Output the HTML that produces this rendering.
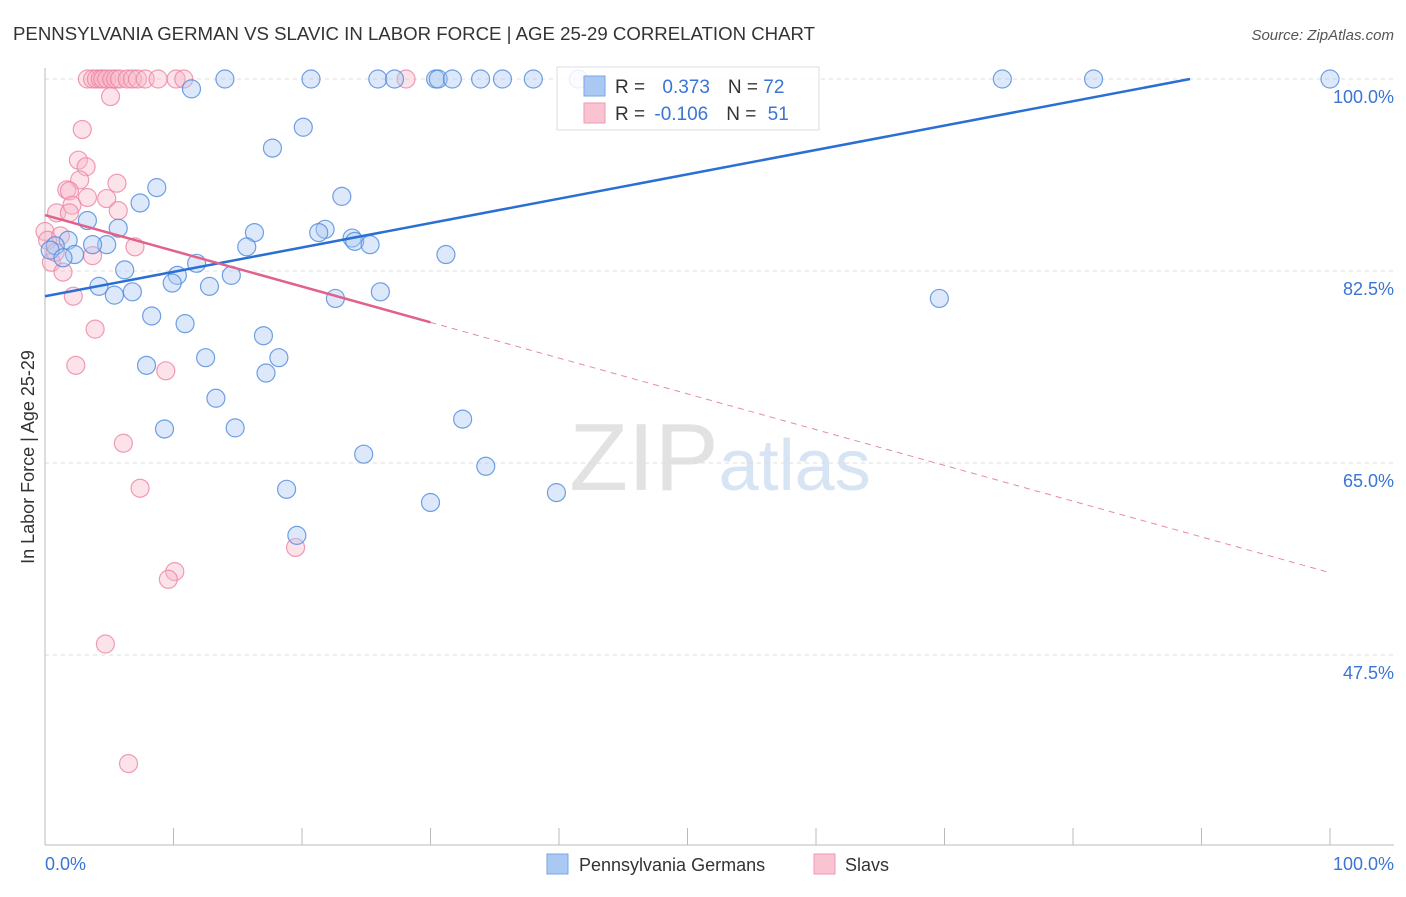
<!DOCTYPE html>
<html><head><meta charset="utf-8">
<style>
body{margin:0;background:#fff;font-family:"Liberation Sans",sans-serif;}
svg text{font-family:"Liberation Sans",sans-serif;}
</style></head>
<body>
<svg id="chart" width="1406" height="892" xmlns="http://www.w3.org/2000/svg">
<text x="13" y="40" font-size="18" fill="#333" textLength="802" lengthAdjust="spacingAndGlyphs">PENNSYLVANIA GERMAN VS SLAVIC IN LABOR FORCE | AGE 25-29 CORRELATION CHART</text>
<text x="1394" y="40" font-size="15" fill="#555" text-anchor="end" font-style="italic">Source: ZipAtlas.com</text>
<text x="720" y="490" font-size="96" text-anchor="middle" fill="#e2e2e2" font-family="Liberation Serif"><tspan fill="#e2e2e2">ZIP</tspan><tspan fill="#d6e4f4" font-family="Liberation Sans" font-size="72">atlas</tspan></text>
<g id="grid"></g>
<g id="axes"></g>
<g id="pts"></g>
<g id="trend"></g>
<text transform="translate(34,457) rotate(-90)" font-size="18" fill="#333" text-anchor="middle">In Labor Force | Age 25-29</text>
<text x="45" y="870" font-size="18" fill="#3a74d6">0.0%</text>
<text x="1394" y="870" font-size="18" fill="#3a74d6" text-anchor="end">100.0%</text>
<g>
<rect x="557" y="67" width="262" height="63" fill="#fff" fill-opacity="0.85" stroke="#ddd"/>
<rect x="584" y="76" width="21" height="20" fill="#a9c8f2" stroke="#7aa6e6"/>
<rect x="584" y="103" width="21" height="20" fill="#f9c3d2" stroke="#ef9ab2"/>
<text x="615" y="93" font-size="19" fill="#333">R = <tspan fill="#3a74d6" dx="12">0.373</tspan><tspan dx="18" fill="#333">N = </tspan><tspan fill="#3a74d6">72</tspan></text>
<text x="615" y="120" font-size="19" fill="#333">R = <tspan fill="#3a74d6" dx="4">-0.106</tspan><tspan dx="18" fill="#333">N = </tspan><tspan fill="#3a74d6" dx="6">51</tspan></text>
</g>
<g>
<rect x="547" y="854" width="21" height="20" fill="#a9c8f2" stroke="#7aa6e6"/>
<text x="579" y="871" font-size="18" fill="#333">Pennsylvania Germans</text>
<rect x="814" y="854" width="21" height="20" fill="#f9c3d2" stroke="#ef9ab2"/>
<text x="845" y="871" font-size="18" fill="#333">Slavs</text>
</g>
</svg>
<script>
const yTicks=[100,82.5,65,47.5];
const yTickLabels=["100.0%","82.5%","65.0%","47.5%"];
const xTicks=[0,10,20,30,40,50,60,70,80,90,100];
const blueX=[11.4,14.0,20.7,25.9,27.2,30.4,30.6,31.7,33.9,35.6,38.0,41.5,74.5,81.6,100,20.1,17.7,8.7,7.4,23.1,3.3,5.7,16.3,21.8,21.3,23.9,24.1,25.3,15.7,4.8,3.7,1.8,0.8,0.4,2.3,1.4,31.2,11.8,6.2,10.3,9.9,14.5,4.2,12.8,5.4,6.8,22.6,26.1,69.6,8.3,10.9,17.0,18.2,12.5,7.9,17.2,13.3,32.5,9.3,14.8,24.8,34.3,18.8,30.0,39.8,19.6];
const blueY=[99.1,100,100,100,100,100,100,100,100,100,100,100,100,100,100,95.6,93.7,90.1,88.7,89.3,87.1,86.4,86.0,86.3,86.0,85.5,85.2,84.9,84.7,84.9,84.9,85.3,84.8,84.4,84.0,83.7,84.0,83.2,82.6,82.1,81.4,82.1,81.1,81.1,80.3,80.6,80.0,80.6,80.0,78.4,77.7,76.6,74.6,74.6,73.9,73.2,70.9,69.0,68.1,68.2,65.8,64.7,62.6,61.4,62.3,58.4];
const pinkX=[3.3,3.7,4.0,4.3,4.5,4.8,5.2,5.5,5.8,6.4,6.8,7.2,7.8,8.8,10.2,10.8,28.1,5.1,2.9,2.6,3.2,2.7,1.7,1.9,5.6,3.3,4.8,2.1,5.7,0.9,1.9,0.0,1.2,7.0,3.7,0.5,1.4,2.2,3.9,2.4,9.4,6.1,7.4,19.5,10.1,9.6,4.7,6.5,0.2,0.8];
const pinkY=[100,100,100,100,100,100,100,100,100,100,100,100,100,100,100,100,100,98.4,95.4,92.6,92.0,90.8,89.9,89.8,90.5,89.2,89.1,88.5,88.0,87.8,87.8,86.1,85.7,84.7,83.9,83.3,82.4,80.2,77.2,73.9,73.4,66.8,62.7,57.3,55.1,54.4,48.5,37.6,85.3,84.2];
const blueTrend=[80.2,0.2222];
const pinkTrend=[87.6,-0.326];
const pinkSolidEnd=30;

const NS="http://www.w3.org/2000/svg";
const X=v=>45+v*12.85, Y=v=>79+(100-v)*10.971;
function mk(tag,attrs,parent){const e=document.createElementNS(NS,tag);for(const k in attrs)e.setAttribute(k,attrs[k]);parent.appendChild(e);return e;}
const grid=document.getElementById('grid'),axes=document.getElementById('axes'),pts=document.getElementById('pts'),trend=document.getElementById('trend');
yTicks.forEach((t,i)=>{
 const l=mk('line',{x1:45,x2:1394,y1:Y(t),y2:Y(t),stroke:'#ddd','stroke-dasharray':'4,4'},grid);
 
 
 const tx=mk('text',{x:1394,y:Y(t)+24,'font-size':18,fill:'#3a74d6','text-anchor':'end'},grid);
 tx.textContent=yTickLabels[i];
 
 
});
const ya=mk('line',{x1:45,x2:45,y1:68,y2:845,stroke:'#bbb'},axes);


const xa=mk('line',{x1:45,x2:1394,y1:845,y2:845,stroke:'#bbb'},axes);


xTicks.forEach(t=>{
 const l=mk('line',{x1:X(t),x2:X(t),y1:828,y2:845,stroke:'#bbb'},axes);
 
 
});
function dots(xs,ys,fill,stroke,name){
 xs.forEach((x,i)=>{
  const c=mk('circle',{cx:X(x),cy:Y(ys[i]),r:9,fill:fill,'fill-opacity':0.4,stroke:stroke,'stroke-opacity':0.8,'stroke-width':1.2},pts);
  
  
 });
}
dots(pinkX,pinkY,'#f7b6c8','#ec85a4','slav-point');
dots(blueX,blueY,'#a9c8f2','#4f88dc','pennsylvania-german-point');
const bEnd=(100-blueTrend[0])/blueTrend[1];
const bl=mk('line',{x1:X(0),y1:Y(blueTrend[0]),x2:X(bEnd),y2:Y(100),stroke:'#2a6fd4','stroke-width':2.5},trend);


const pv=x=>pinkTrend[0]+pinkTrend[1]*x;
const pl=mk('line',{x1:X(0),y1:Y(pv(0)),x2:X(pinkSolidEnd),y2:Y(pv(pinkSolidEnd)),stroke:'#e0628c','stroke-width':2.5},trend);


const pd=mk('line',{x1:X(pinkSolidEnd),y1:Y(pv(pinkSolidEnd)),x2:X(100),y2:Y(pv(100)),stroke:'#e78aa8','stroke-width':1,'stroke-dasharray':'6,5'},trend);


</script>
</body></html>
